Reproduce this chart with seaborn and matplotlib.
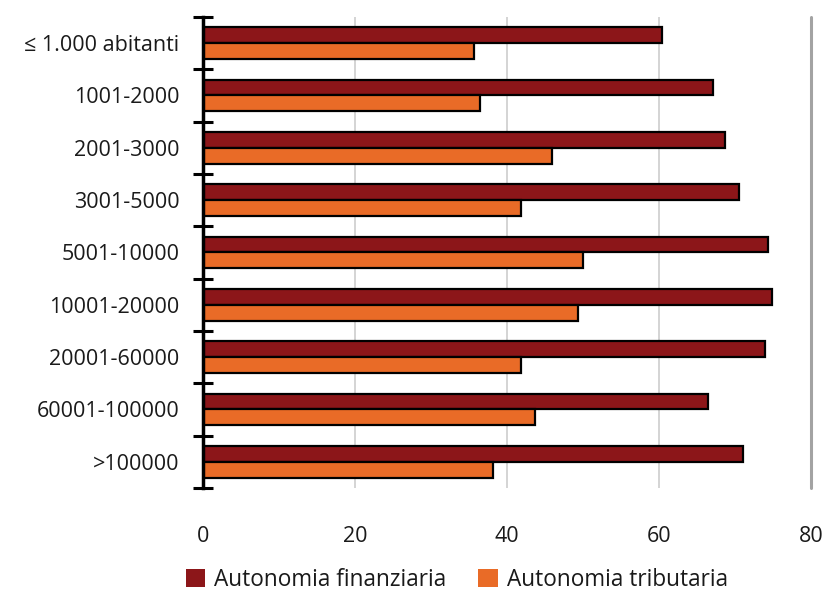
import matplotlib
matplotlib.use("Agg")
import matplotlib.pyplot as plt
import seaborn as sns
import pandas as pd
import numpy as np
from matplotlib.patches import Patch
from matplotlib.ticker import FixedLocator

# Population classes of municipalities
categories = [
    "≤ 1.000 abitanti", "1001-2000", "2001-3000", "3001-5000",
    "5001-10000", "10001-20000", "20001-60000", "60001-100000", ">100000",
]
series_names = ["Autonomia finanziaria", "Autonomia tributaria"]
finanziaria = [60.4, 67.1, 68.7, 70.5, 74.4, 74.9, 73.9, 66.4, 71.0]
tributaria = [35.7, 36.4, 45.9, 41.8, 50.0, 49.3, 41.9, 43.7, 38.2]
x_ticks = [0, 20, 40, 60, 80]

colors = ["#8C1619", "#E96B27"]

df = pd.DataFrame({
    "classe": categories * 2,
    "serie": [series_names[0]] * len(categories) + [series_names[1]] * len(categories),
    "valore": finanziaria + tributaria,
})

sns.set_style("white")
plt.rcParams["font.family"] = ["Open Sans", "DejaVu Sans"]

fig = plt.figure(figsize=(8.24, 5.95), dpi=100)
ax = fig.add_axes([203 / 824, 1 - 488 / 595, (811 - 203) / 824, (488 - 17) / 595])

sns.barplot(
    data=df, y="classe", x="valore", hue="serie", order=categories,
    hue_order=series_names, palette=colors, width=0.6, orient="h",
    edgecolor="black", linewidth=1.6, legend=False, ax=ax, saturation=1,
)

ax.set_xlim(0, 80)
ax.set_ylim(len(categories) - 0.5, -0.5)
ax.set_xlabel("")
ax.set_ylabel("")

# vertical gridlines
for v in x_ticks[1:-1]:
    ax.axvline(v, color="#c9c9c9", lw=1.1, zorder=0)
ax.axvline(80, color="#a3a3a3", lw=2.2, zorder=0, clip_on=False)

for side in ["top", "right", "bottom"]:
    ax.spines[side].set_visible(False)
ax.spines["left"].set_color("black")
ax.spines["left"].set_linewidth(2.5)
ax.spines["left"].set_zorder(5)

ax.set_xticks(x_ticks)
ax.set_xticklabels([str(t) for t in x_ticks])
ax.tick_params(axis="x", length=0, pad=27, labelsize=15.5, labelcolor="#1a1a1a")

ax.set_yticks(range(len(categories)))
ax.set_yticklabels(categories)
ax.tick_params(axis="y", which="major", left=True, length=0, pad=17,
               labelsize=15.5, labelcolor="#1a1a1a")
# separators between classes, crossing the axis line
ax.yaxis.set_minor_locator(FixedLocator(np.arange(-0.5, len(categories), 1.0)))
ax.tick_params(axis="y", which="minor", left=True, direction="inout",
               length=15, width=2.2, color="black")

handles = [Patch(facecolor=c, edgecolor="none") for c in colors]
fig.legend(
    handles, series_names, loc="center", bbox_to_anchor=(457 / 824, 1 - 580 / 595),
    ncol=2, frameon=False, fontsize=16.3, handlelength=0.85, handleheight=0.85,
    handletextpad=0.4, columnspacing=1.4, labelcolor="#1a1a1a",
)

fig.savefig("out.png", dpi=100)
